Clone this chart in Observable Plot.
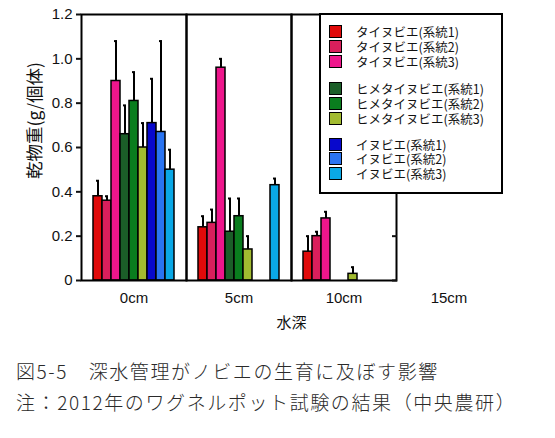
<!DOCTYPE html>
<html>
<head>
<meta charset="utf-8">
<script src="https://cdn.jsdelivr.net/npm/d3@7"></script>
<script src="https://cdn.jsdelivr.net/npm/@observablehq/plot@0.6"></script>
<style>
  html, body { margin: 0; padding: 0; background: #fff; }
  #wrap { position: relative; width: 555px; height: 438px; font-family: "Liberation Sans", "Noto Sans CJK JP", sans-serif; }
  #legend { position: absolute; left: 319px; top: 13px; width: 180px; height: 177px; border: 2px solid #000; background: #fff; box-sizing: content-box; }
  .row { position: absolute; left: 0; height: 13px; line-height: 13px; display: flex; align-items: center; font-family: "Noto Sans CJK JP", sans-serif; font-size: 12.5px; color: #111; }
  .row span { line-height: 13px; }
  .sw { width: 11px; height: 11px; border: 1.5px solid #000; margin-left: 8px; margin-right: 14px; }
  #caption { position: absolute; left: 16px; top: 355px; font-family: "Noto Sans CJK JP", serif; font-weight: 300; font-size: 19px; line-height: 31px; color: #2a2a2a; letter-spacing: 1.6px; white-space: nowrap; }
</style>
</head>
<body>
<div id="wrap">
  <div id="chart"></div>
  <div id="legend"></div>
  <div id="caption">図5-5　深水管理がノビエの生育に及ぼす影響<br>注：2012年のワグネルポット試験の結果（中央農研）</div>
</div>
<script>
// ---- data ----
const depths = ["0cm", "5cm", "10cm", "15cm"];
const series = [
  "タイヌビエ(系統1)", "タイヌビエ(系統2)", "タイヌビエ(系統3)",
  "ヒメタイヌビエ(系統1)", "ヒメタイヌビエ(系統2)", "ヒメタイヌビエ(系統3)",
  "イヌビエ(系統1)", "イヌビエ(系統2)", "イヌビエ(系統3)"
];
const colors = ["#e00a0a", "#d91f5c", "#ee168c", "#1b5e28", "#0a7d1e", "#a2bb30", "#0808cc", "#2a74f2", "#0aa8e6"];
// mean dry weight per depth, one value per series (null = no plant)
const mean0 = [0.38, 0.36, 0.90, 0.66, 0.81, 0.60, 0.71, 0.67, 0.50];
const mean5 = [0.24, 0.26, 0.96, 0.22, 0.29, 0.14, null, null, 0.43];
const mean10 = [0.13, 0.20, 0.28, null, null, 0.03, null, null, null];
const mean15 = [null, null, null, null, null, null, null, null, null];
// standard error (upper bar)
const err0 = [0.07, 0.02, 0.18, 0.13, 0.13, 0.11, 0.20, 0.41, 0.09];
const err5 = [0.05, 0.06, 0.04, 0.15, 0.08, 0.06, null, null, 0.03];
const err10 = [0.07, 0.02, 0.03, null, null, 0.03, null, null, null];
const err15 = [null, null, null, null, null, null, null, null, null];
const yTicks = [0, 0.2, 0.4, 0.6, 0.8, 1.0, 1.2];

const means = [mean0, mean5, mean10, mean15];
const errs = [err0, err5, err10, err15];
const bars = [];
depths.forEach((d, i) => series.forEach((s, j) => {
  const v = means[i][j];
  if (v != null) bars.push({depth: d, series: s, value: v, top: v + errs[i][j]});
}));

const fmt = d => d === 0 ? "0" : d.toFixed(1);

const chart = Plot.plot({
  width: 555,
  height: 345,
  marginLeft: 81,
  marginRight: 54,
  marginTop: 14,
  marginBottom: 65,
  style: {fontFamily: "'Liberation Sans', 'Noto Sans CJK JP', sans-serif", color: "#111", background: "#fff"},
  fx: {domain: depths, padding: 0, label: null},
  x: {domain: series, paddingInner: 0, paddingOuter: 1.03, axis: null},
  y: {domain: [0, 1.2], axis: null},
  color: {domain: series, range: colors},
  marks: [
    Plot.ruleX(bars, {fx: "depth", x: "series", y1: "value", y2: "top", stroke: "#000", strokeWidth: 2}),
    Plot.tickY(bars, {fx: "depth", x: "series", y: "top", stroke: "#000", strokeWidth: 2, insetLeft: 3, insetRight: 3}),
    Plot.barY(bars, {fx: "depth", x: "series", y: "value", fill: "series", stroke: "#000", strokeWidth: 1.5}),
    Plot.frame({stroke: "#000", strokeWidth: 2}),
    Plot.axisY({anchor: "left", ticks: yTicks, tickFormat: fmt, tickSize: 5, tickPadding: 4, strokeWidth: 2, fontSize: 15, label: null}),
    Plot.axisY({anchor: "right", ticks: yTicks, tickFormat: () => "", tickSize: 5, dx: -5, strokeWidth: 2, label: null}),
    Plot.axisFx({anchor: "bottom", tickSize: 0, tickPadding: 12, fontSize: 15, label: "水深", labelAnchor: "center", labelOffset: 47}),
    Plot.text([{fx: "0cm", t: "乾物重(g/個体)"}], {fx: "fx", text: "t", frameAnchor: "left", textAnchor: "middle", rotate: -90, dx: -46, dy: -27, fontSize: 17.5, fontFamily: "'Noto Sans CJK JP', sans-serif"})
  ]
});
document.getElementById("chart").appendChild(chart);

// legend
const rowsY = [31, 46, 61, 88, 103, 118, 144, 158, 173];
const legend = document.getElementById("legend");
series.forEach((s, i) => {
  const r = document.createElement("div");
  r.className = "row";
  r.style.top = (rowsY[i] - 15 - 6.5) + "px";
  const sw = document.createElement("div");
  sw.className = "sw";
  sw.style.background = colors[i];
  const t = document.createElement("span");
  t.textContent = s;
  r.appendChild(sw); r.appendChild(t);
  legend.appendChild(r);
});
</script>
</body>
</html>
